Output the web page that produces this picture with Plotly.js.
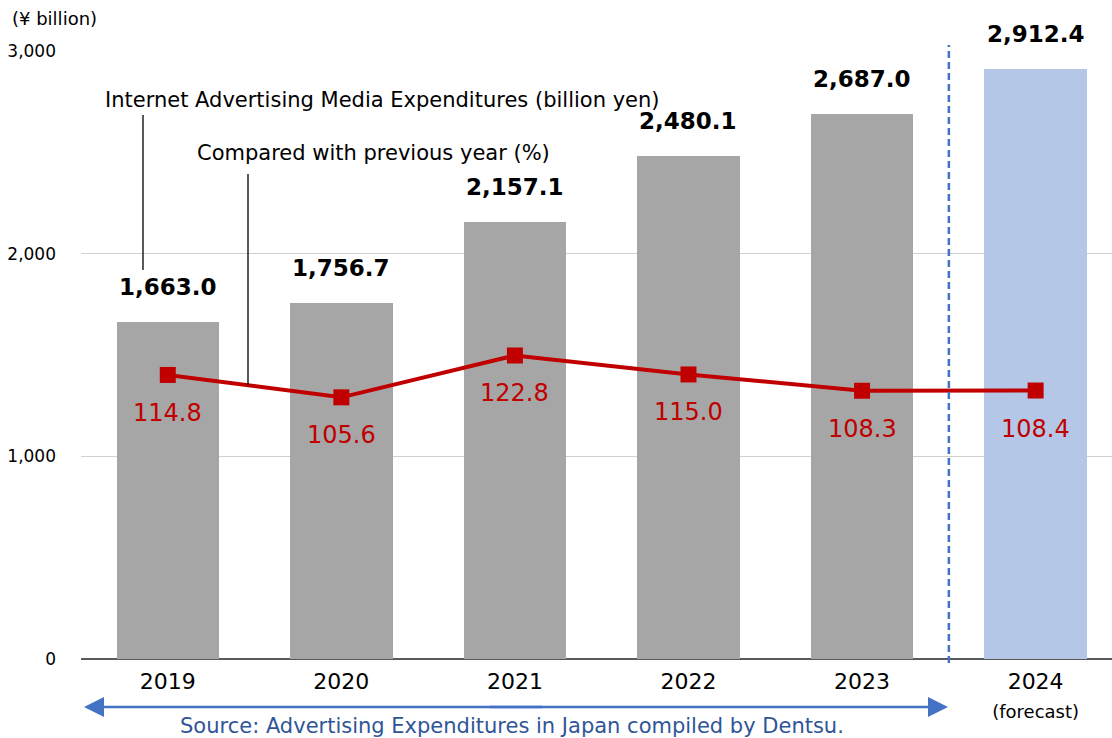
<!DOCTYPE html>
<html>
<head>
<meta charset="utf-8">
<script src="https://cdn.plot.ly/plotly-3.0.1.min.js"></script>
<style>html,body{margin:0;padding:0;background:#fff;}#chart{width:1112px;height:738px;}</style>
</head>
<body>
<div id="chart"></div>
<script>
// ---- data ----
const years = ["2019", "2020", "2021", "2022", "2023", "2024"];
const tickLabels = ["2019", "2020", "2021", "2022", "2023", "2024<br><span style='font-size:18px'>(forecast)</span>"];
const expenditures = [1663.0, 1756.7, 2157.1, 2480.1, 2687.0, 2912.4];
const yoyPercent = [114.8, 105.6, 122.8, 115.0, 108.3, 108.4];
const isForecast = [false, false, false, false, false, true];
const yTickVals = [0, 1000, 2000, 3000];
const yTickText = ["0", "1,000", "2,000", "3,000"];

const FONT = "DejaVu Sans, Noto Sans, sans-serif";
const GRAY = "#A6A6A6", BLUEBAR = "#B4C7E7", RED = "#C00000", BLUE = "#4472C4";
const xs = years.map((_, i) => i);

const fmt1 = v => v.toLocaleString("en-US", {minimumFractionDigits: 1, maximumFractionDigits: 1});

const bars = {
  type: "bar", x: xs, y: expenditures, width: 0.59,
  marker: {color: isForecast.map(f => f ? BLUEBAR : GRAY)},
  hoverinfo: "skip", showlegend: false
};
const line = {
  type: "scatter", mode: "lines+markers", x: xs, y: yoyPercent, yaxis: "y2",
  line: {color: RED, width: 4},
  marker: {symbol: "square", size: 16, color: RED},
  hoverinfo: "skip", showlegend: false
};

// pixel helpers for paper coords (plot area 81..1112 x 51..659)
const L = 81, R = 1112, T = 51, B = 659;
const px = p => (p - L) / (R - L);
const py = p => (B - p) / (B - T);

const annotations = [];
expenditures.forEach((v, i) => annotations.push({
  x: xs[i], y: v, xref: "x", yref: "y", text: fmt1(v), showarrow: false,
  yanchor: "bottom", yshift: 20, font: {family: FONT, size: 23, color: "#000", weight: "bold"}
}));
yoyPercent.forEach((v, i) => annotations.push({
  x: xs[i], y: v, xref: "x", yref: "y2", text: fmt1(v), showarrow: false,
  yanchor: "top", yshift: -22, font: {family: FONT, size: 24, color: RED}
}));
annotations.push(
  {xref: "paper", yref: "paper", x: px(10), y: py(18), xanchor: "left", yanchor: "middle",
   text: "(¥ billion)", showarrow: false, font: {family: FONT, size: 18, color: "#000"}},
  {xref: "paper", yref: "paper", x: px(382), y: py(100), xanchor: "center", yanchor: "middle",
   text: "Internet Advertising Media Expenditures (billion yen)", showarrow: false,
   font: {family: FONT, size: 21, color: "#000"}},
  {xref: "paper", yref: "paper", x: px(373), y: py(153), xanchor: "center", yanchor: "middle",
   text: "Compared with previous year (%)", showarrow: false,
   font: {family: FONT, size: 21, color: "#000"}},
  {xref: "paper", yref: "paper", x: px(512), y: py(726), xanchor: "center", yanchor: "middle",
   text: "Source: Advertising Expenditures in Japan compiled by Dentsu.", showarrow: false,
   font: {family: FONT, size: 21, color: "#2F5597"}},
  // double-headed arrow
  {xref: "paper", yref: "paper", x: px(84), y: py(707), text: "", showarrow: true,
   ax: 460, ay: 0, arrowcolor: BLUE, arrowwidth: 2.5, arrowhead: 2, arrowsize: 1.6, standoff: 0},
  {xref: "paper", yref: "paper", x: px(948), y: py(707), text: "", showarrow: true,
   ax: -460, ay: 0, arrowcolor: BLUE, arrowwidth: 2.5, arrowhead: 2, arrowsize: 1.6, standoff: 0}
);

const shapes = [
  {type: "line", xref: "x", yref: "paper", x0: 4.5, x1: 4.5, y0: py(663), y1: py(45),
   line: {color: BLUE, width: 2.5, dash: "7px,4px"}},
  {type: "line", xref: "paper", yref: "paper", x0: px(143), x1: px(143), y0: py(115), y1: py(270),
   line: {color: "#000", width: 1.3}},
  {type: "line", xref: "paper", yref: "paper", x0: px(248), x1: px(248), y0: py(174), y1: py(385),
   line: {color: "#000", width: 1.3}}
];

const layout = {
  width: 1112, height: 738,
  margin: {l: L, r: 1112 - R, t: T, b: 738 - B, pad: 0},
  paper_bgcolor: "#fff", plot_bgcolor: "#fff",
  font: {family: FONT, color: "#000"},
  bargap: 0,
  xaxis: {
    range: [-0.5, 5.44], tickvals: xs, ticktext: tickLabels, showgrid: false,
    zeroline: false, showline: false, ticks: "", fixedrange: true,
    tickfont: {family: FONT, size: 22, color: "#000"}, ticklabelstandoff: 7
  },
  yaxis: {
    range: [0, 3000], tickvals: yTickVals, ticktext: yTickText,
    showgrid: true, gridcolor: "#D0D0D0", gridwidth: 1,
    zeroline: true, zerolinecolor: "#595959", zerolinewidth: 2.5,
    showline: false, ticks: "", tickfont: {family: FONT, size: 17, color: "#000"},
    ticklabelstandoff: 24
  },
  yaxis2: {range: [-2, 248], overlaying: "y", visible: false, showgrid: false},
  annotations: annotations,
  shapes: shapes,
  showlegend: false
};

Plotly.newPlot("chart", [bars, line], layout, {displayModeBar: false, staticPlot: true});
</script>
</body>
</html>
